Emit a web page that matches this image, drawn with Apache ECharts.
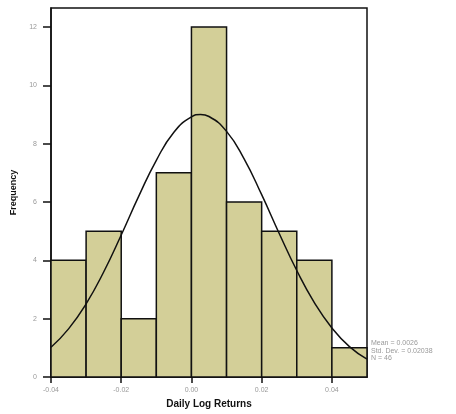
<!DOCTYPE html>
<html>
<head>
<meta charset="utf-8">
<script src="https://cdn.jsdelivr.net/npm/echarts@6/dist/echarts.min.js"></script>
<style>html,body{margin:0;padding:0;background:#fff;}#c{width:456px;height:414px;}</style>
</head>
<body>
<div id="c"></div>
<script>
// Histogram bins (lower edge, upper edge) and counts
const binStarts = [-0.04, -0.03, -0.02, -0.01, 0.00, 0.01, 0.02, 0.03, 0.04];
const binEnds   = [-0.03, -0.02, -0.01, 0.00, 0.01, 0.02, 0.03, 0.04, 0.05];
const counts    = [4, 5, 2, 7, 12, 6, 5, 4, 1];
// Normal curve
const curveX = [-0.04, -0.035, -0.03, -0.025, -0.02, -0.015, -0.01, -0.005, 0.0, 0.0026, 0.005, 0.01, 0.015, 0.02, 0.025, 0.03, 0.035, 0.04, 0.045, 0.05];
const curveY = [1.02, 1.65, 2.51, 3.60, 4.87, 6.20, 7.43, 8.39, 8.92, 9.0, 8.93, 8.42, 7.48, 6.25, 4.92, 3.65, 2.55, 1.68, 1.04, 0.61];
// Tick labels
const xTicks = [-0.04, -0.02, 0.00, 0.02, 0.04];
const yTicks = [0, 2, 4, 6, 8, 10, 12];
const statsLines = ['Mean = 0.0026', 'Std. Dev. = 0.02038', 'N = 46'];

const chart = echarts.init(document.getElementById('c'));
const barData = counts.map((c, i) => [binStarts[i], binEnds[i], c]);
const curveData = curveX.map((x, i) => [x, curveY[i]]);

chart.setOption({
  animation: false,
  backgroundColor: '#fff',
  grid: { left: 51, top: 8, right: 89, bottom: 35, show: true, borderColor: '#111', borderWidth: 1.5, backgroundColor: 'transparent' },
  xAxis: {
    type: 'value', min: -0.04, max: 0.05,
    name: 'Daily Log Returns', nameLocation: 'middle', nameGap: 22,
    nameTextStyle: { fontFamily: 'Liberation Sans', fontWeight: 'bold', fontSize: 10, color: '#111' },
    axisLine: { show: true, onZero: false, lineStyle: { color: '#111', width: 1.5 } },
    axisTick: { show: true, length: 6, lineStyle: { color: '#111', width: 1.5 }, customValues: xTicks },
    axisLabel: { color: '#999', fontSize: 7, fontFamily: 'Liberation Sans', margin: 10, customValues: xTicks, formatter: v => v.toFixed(2) },
    splitLine: { show: false }
  },
  yAxis: {
    type: 'value', min: 0, max: 12.65,
    name: 'Frequency', nameLocation: 'middle', nameGap: 32, nameRotate: 90,
    nameTextStyle: { fontFamily: 'Liberation Sans', fontWeight: 'bold', fontSize: 9, color: '#111' },
    axisLine: { show: true, onZero: false, lineStyle: { color: '#111', width: 1.5 } },
    axisTick: { show: true, length: 8, lineStyle: { color: '#111', width: 1.5 }, customValues: yTicks },
    axisLabel: { color: '#999', fontSize: 7, fontFamily: 'Liberation Sans', margin: 14, customValues: yTicks },
    splitLine: { show: false }
  },
  series: [
    {
      type: 'custom',
      data: barData,
      encode: { x: [0, 1], y: 2 },
      renderItem: function (params, api) {
        const p0 = api.coord([api.value(0), api.value(2)]);
        const p1 = api.coord([api.value(1), 0]);
        return {
          type: 'rect',
          shape: { x: p0[0], y: p0[1], width: p1[0] - p0[0], height: p1[1] - p0[1] },
          style: { fill: '#d3cf98', stroke: '#111', lineWidth: 1.5 }
        };
      },
      z: 2
    },
    {
      type: 'line',
      data: curveData,
      smooth: true,
      showSymbol: false,
      symbol: 'none',
      lineStyle: { color: '#111', width: 1.5 },
      z: 3
    }
  ],
  graphic: statsLines.map((t, i) => ({
    type: 'text', left: 371, top: 340 + i * 7.5,
    style: { text: t, fill: '#999', fontSize: 7, fontFamily: 'Liberation Sans' }
  }))
});
</script>
</body>
</html>
